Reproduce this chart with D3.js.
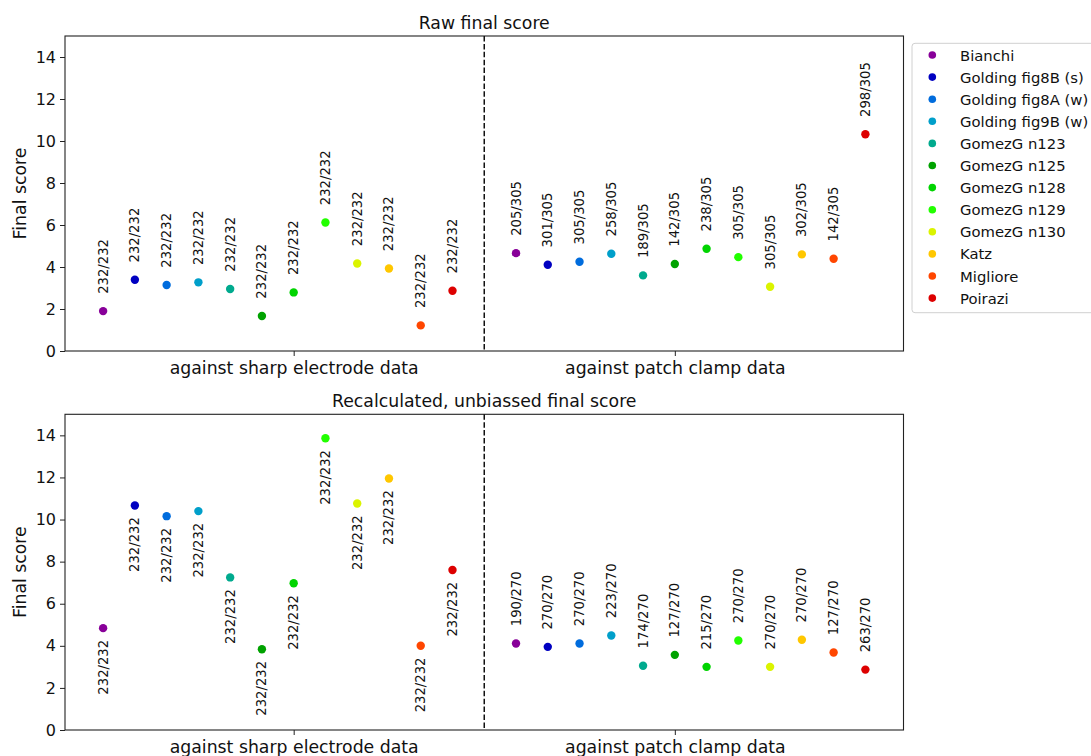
<!DOCTYPE html>
<html>
<head>
<meta charset="utf-8">
<script src="https://cdn.jsdelivr.net/npm/d3@7"></script>
<style>
  html, body { margin: 0; padding: 0; background: #fff; }
  svg { display: block; font-family: "DejaVu Sans", sans-serif; }
</style>
</head>
<body>
<svg id="chart" width="1091" height="756"></svg>
<script>
// Models and their colours (nipy_spectral samples)
const models = ["Bianchi", "Golding fig8B (s)", "Golding fig8A (w)", "Golding fig9B (w)",
  "GomezG n123", "GomezG n125", "GomezG n128", "GomezG n129", "GomezG n130",
  "Katz", "Migliore", "Poirazi"];
const colors = ["#880099", "#0000c1", "#006cdd", "#009fca", "#00aa8e", "#00a200",
  "#00d400", "#22ff00", "#dbf400", "#ffc700", "#ff4600", "#dd0000"];

// Raw final score
const rawSharp = [1.90, 3.39, 3.14, 3.27, 2.95, 1.67, 2.79, 6.12, 4.17, 3.93, 1.22, 2.87];
const rawSharpLabels = ["232/232", "232/232", "232/232", "232/232", "232/232", "232/232",
  "232/232", "232/232", "232/232", "232/232", "232/232", "232/232"];
const rawPatch = [4.66, 4.11, 4.25, 4.63, 3.60, 4.14, 4.87, 4.47, 3.06, 4.60, 4.39, 10.32];
const rawPatchLabels = ["205/305", "301/305", "305/305", "258/305", "189/305", "142/305",
  "238/305", "305/305", "305/305", "302/305", "142/305", "298/305"];

// Recalculated, unbiassed final score
const unbSharp = [4.84, 10.67, 10.16, 10.40, 7.25, 3.84, 6.97, 13.86, 10.76, 11.95, 4.00, 7.60];
const unbSharpLabels = ["232/232", "232/232", "232/232", "232/232", "232/232", "232/232",
  "232/232", "232/232", "232/232", "232/232", "232/232", "232/232"];
const unbPatch = [4.11, 3.95, 4.11, 4.49, 3.05, 3.57, 3.00, 4.25, 3.00, 4.29, 3.68, 2.87];
const unbPatchLabels = ["190/270", "270/270", "270/270", "223/270", "174/270", "127/270",
  "215/270", "270/270", "270/270", "270/270", "127/270", "263/270"];

const groupTicks = [6, 18];
const groupNames = ["against sharp electrode data", "against patch clamp data"];
const yTicks = [0, 2, 4, 6, 8, 10, 12, 14];

const svg = d3.select("#chart");

const x = d3.scaleLinear().domain([-1.2, 25.2]).range([65, 903.5]);

function panel(opts) {
  const { top, bottom, title, sharp, sharpLabels, patch, patchLabels, sharpBelow } = opts;
  const y = d3.scaleLinear().domain([0, 15]).range([bottom, top]);
  const g = svg.append("g");

  // title
  g.append("text")
    .attr("x", (x.range()[0] + x.range()[1]) / 2)
    .attr("y", top - 7.5)
    .attr("text-anchor", "middle")
    .style("font-size", "17.3px")
    .attr("fill", "#111")
    .text(title);

  // y axis
  const yAxis = d3.axisLeft(y).tickValues(yTicks).tickSize(5).tickPadding(4)
    .tickFormat(d3.format("d"));
  const ya = g.append("g").attr("transform", `translate(${x.range()[0]},0)`).call(yAxis);
  ya.select(".domain").remove();
  ya.selectAll("text").style("font-size", "16px").attr("fill", "#111").style("font-family", "DejaVu Sans");
  ya.selectAll("line").attr("stroke", "#222");

  // x axis
  const xAxis = d3.axisBottom(x).tickValues(groupTicks).tickSize(5).tickPadding(6)
    .tickFormat((d, i) => groupNames[i]);
  const xa = g.append("g").attr("transform", `translate(0,${bottom})`).call(xAxis);
  xa.select(".domain").remove();
  xa.selectAll("text").style("font-size", "17.3px").attr("fill", "#111").style("font-family", "DejaVu Sans");
  xa.selectAll("line").attr("stroke", "#222");

  // y label
  g.append("text")
    .attr("transform", `translate(25.5,${(top + bottom) / 2}) rotate(-90)`)
    .attr("text-anchor", "middle")
    .style("font-size", "17.3px")
    .attr("fill", "#111")
    .text("Final score");

  // frame
  g.append("rect")
    .attr("x", x.range()[0]).attr("y", top)
    .attr("width", x.range()[1] - x.range()[0]).attr("height", bottom - top)
    .attr("fill", "none").attr("stroke", "#222").attr("stroke-width", 1.1);

  // separator between the two data sets
  g.append("line")
    .attr("x1", x(12)).attr("x2", x(12))
    .attr("y1", y(15)).attr("y2", y(0))
    .attr("stroke", "#111").attr("stroke-width", 1.5)
    .attr("stroke-dasharray", "5.5,2.4");

  const pts = [];
  sharp.forEach((v, i) => pts.push({ xi: i, v, label: sharpLabels[i], c: colors[i], below: sharpBelow }));
  patch.forEach((v, i) => pts.push({ xi: 13 + i, v, label: patchLabels[i], c: colors[i], below: false }));

  g.selectAll("circle.pt").data(pts).join("circle")
    .attr("class", "pt")
    .attr("cx", d => x(d.xi)).attr("cy", d => y(d.v))
    .attr("r", 4.2).attr("fill", d => d.c);

  g.selectAll("text.ann").data(pts).join("text")
    .attr("class", "ann")
    .attr("transform", d => {
      const ty = d.below ? y(d.v) + 11.7 : y(d.v) - 17.3;
      return `translate(${x(d.xi)},${ty}) rotate(-90)`;
    })
    .attr("text-anchor", d => d.below ? "end" : "start")
    .attr("dominant-baseline", "central")
    .style("font-size", "13.2px")
    .attr("fill", "#111")
    .text(d => d.label);
}

panel({ top: 36, bottom: 351, title: "Raw final score",
  sharp: rawSharp, sharpLabels: rawSharpLabels, patch: rawPatch, patchLabels: rawPatchLabels, sharpBelow: false });
panel({ top: 414.3, bottom: 730, title: "Recalculated, unbiassed final score",
  sharp: unbSharp, sharpLabels: unbSharpLabels, patch: unbPatch, patchLabels: unbPatchLabels, sharpBelow: true });

// legend
const leg = svg.append("g");
leg.append("rect")
  .attr("x", 912).attr("y", 43.3).attr("width", 200).attr("height", 269.4)
  .attr("rx", 3).attr("fill", "#fff").attr("stroke", "#d0d0d0").attr("stroke-width", 1);
const rows = leg.selectAll("g.row").data(models).join("g")
  .attr("class", "row")
  .attr("transform", (d, i) => `translate(0,${55 + i * 22.1})`);
rows.append("circle").attr("cx", 932.3).attr("cy", 0).attr("r", 3.8)
  .attr("fill", (d, i) => colors[i]);
rows.append("text").attr("x", 960).attr("y", 0)
  .attr("dominant-baseline", "central")
  .style("font-size", "14.8px").attr("fill", "#111")
  .text(d => d);
</script>
</body>
</html>
